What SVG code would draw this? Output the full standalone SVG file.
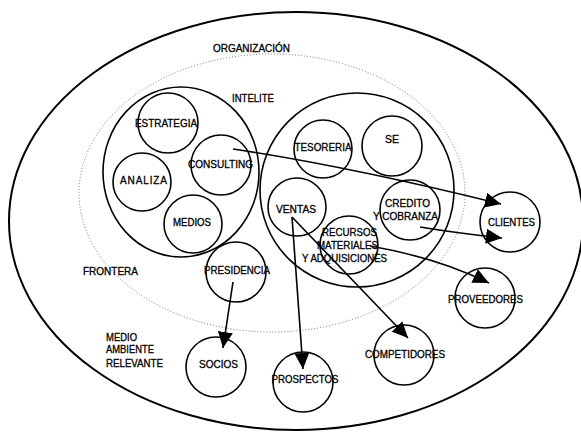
<svg xmlns="http://www.w3.org/2000/svg" width="581" height="433" viewBox="0 0 581 433">
  <style>
    .ring { fill: none; stroke: #000; stroke-width: 2; }
    .node { fill: none; stroke: #000; stroke-width: 1.6; }
    .edge { fill: none; stroke: #000; stroke-width: 1.6; }
    .lbl { font-family: "Liberation Sans", Arial, sans-serif; font-size: 10px; fill: #000; stroke: #000; stroke-width: 0.3; text-anchor: middle; }
    .lft { text-anchor: start; }
  </style>
  <defs>
    <marker id="head" markerUnits="userSpaceOnUse" markerWidth="17" markerHeight="15" refX="16" refY="7.5" orient="auto">
      <path d="M0,0 L16,7.5 L0,15 z" fill="#000"/>
    </marker>
  </defs>
  <rect width="581" height="433" fill="#fff"/>

  <!-- environment and organisation boundaries -->
  <g id="medio-ambiente">
    <ellipse class="ring" cx="296" cy="221" rx="287" ry="209"/>
    <text class="lbl lft" x="106" y="340.5" textLength="31" lengthAdjust="spacingAndGlyphs">MEDIO</text>
    <text class="lbl lft" x="106" y="352.5" textLength="48" lengthAdjust="spacingAndGlyphs">AMBIENTE</text>
    <text class="lbl lft" x="106" y="366.5" textLength="57" lengthAdjust="spacingAndGlyphs">RELEVANTE</text>
  </g>
  <g id="organizacion">
    <ellipse cx="272" cy="193" rx="193" ry="139" fill="none" stroke="#666" stroke-width="0.9" stroke-dasharray="1 2"/>
    <text class="lbl" x="251.5" y="52" textLength="77" lengthAdjust="spacingAndGlyphs">ORGANIZACIÓN</text>
    <text class="lbl lft" x="83" y="274.5" textLength="55" lengthAdjust="spacingAndGlyphs">FRONTERA</text>
  </g>

  <!-- INTELITE group -->
  <g id="intelite">
    <ellipse class="node" cx="181" cy="172" rx="78" ry="85"/>
    <text class="lbl" x="253" y="102" textLength="42" lengthAdjust="spacingAndGlyphs">INTELITE</text>
  </g>
  <g id="estrategia">
    <circle class="node" cx="168" cy="123" r="30"/>
    <text class="lbl" x="166" y="127" textLength="62" lengthAdjust="spacingAndGlyphs">ESTRATEGIA</text>
  </g>
  <g id="consulting">
    <circle class="node" cx="221" cy="165" r="30"/>
    <text class="lbl" x="220.5" y="168" textLength="65" lengthAdjust="spacingAndGlyphs">CONSULTING</text>
  </g>
  <g id="analiza">
    <circle class="node" cx="142" cy="182" r="29"/>
    <text class="lbl" x="143.5" y="184" textLength="47" lengthAdjust="spacing">ANALIZA</text>
  </g>
  <g id="medios">
    <circle class="node" cx="193" cy="224" r="29"/>
    <text class="lbl" x="192" y="226" textLength="38" lengthAdjust="spacingAndGlyphs">MEDIOS</text>
  </g>

  <!-- operations group -->
  <g id="operaciones">
    <circle class="node" cx="357" cy="190" r="97"/>
  </g>
  <g id="tesoreria">
    <circle class="node" cx="323" cy="149" r="29"/>
    <text class="lbl" x="323" y="151" textLength="57" lengthAdjust="spacingAndGlyphs">TESORERIA</text>
  </g>
  <g id="se">
    <circle class="node" cx="392" cy="146" r="30"/>
    <text class="lbl" x="392" y="143" textLength="14" lengthAdjust="spacingAndGlyphs">SE</text>
  </g>
  <g id="ventas">
    <circle class="node" cx="297" cy="207" r="29"/>
    <text class="lbl" x="296" y="213" textLength="40" lengthAdjust="spacingAndGlyphs">VENTAS</text>
  </g>
  <g id="credito">
    <circle class="node" cx="410" cy="210" r="30"/>
    <text class="lbl" x="407.5" y="207" textLength="45" lengthAdjust="spacingAndGlyphs">CREDITO</text>
    <text class="lbl" x="405.5" y="220" textLength="65" lengthAdjust="spacingAndGlyphs">Y COBRANZA</text>
  </g>
  <g id="recursos">
    <circle class="node" cx="349" cy="245" r="29"/>
    <text class="lbl" x="349.5" y="236" textLength="55" lengthAdjust="spacingAndGlyphs">RECURSOS</text>
    <text class="lbl" x="347.5" y="248.5" textLength="61" lengthAdjust="spacingAndGlyphs">MATERIALES</text>
    <text class="lbl" x="344.5" y="262" textLength="85" lengthAdjust="spacingAndGlyphs">Y ADQUISICIONES</text>
  </g>
  <g id="presidencia">
    <circle class="node" cx="236" cy="272" r="30"/>
    <text class="lbl" x="237" y="274" textLength="66" lengthAdjust="spacingAndGlyphs">PRESIDENCIA</text>
  </g>

  <!-- external actors -->
  <g id="clientes">
    <circle class="node" cx="510" cy="222" r="30"/>
    <text class="lbl" x="511.5" y="225.5" textLength="47" lengthAdjust="spacingAndGlyphs">CLIENTES</text>
  </g>
  <g id="proveedores">
    <circle class="node" cx="485" cy="298" r="30"/>
    <text class="lbl" x="485.5" y="303" textLength="75" lengthAdjust="spacingAndGlyphs">PROVEEDORES</text>
  </g>
  <g id="competidores">
    <circle class="node" cx="404" cy="355" r="30"/>
    <text class="lbl" x="405" y="357.5" textLength="80" lengthAdjust="spacingAndGlyphs">COMPETIDORES</text>
  </g>
  <g id="prospectos">
    <circle class="node" cx="303" cy="382" r="30"/>
    <text class="lbl" x="305" y="382.5" textLength="67" lengthAdjust="spacingAndGlyphs">PROSPECTOS</text>
  </g>
  <g id="socios">
    <circle class="node" cx="216" cy="367" r="30"/>
    <text class="lbl" x="218.5" y="368" textLength="39" lengthAdjust="spacingAndGlyphs">SOCIOS</text>
  </g>

  <!-- connectors -->
  <g id="connectors">
    <path class="edge" d="M233,149 C320,162 420,184 501,204" marker-end="url(#head)"/>
    <path class="edge" d="M420,227 C450,232 475,235 502,238" marker-end="url(#head)"/>
    <path class="edge" d="M370,246 C405,252 450,264 489,283" marker-end="url(#head)"/>
    <path class="edge" d="M292,217 L303,369" marker-end="url(#head)"/>
    <path class="edge" d="M292,217 L408,338" marker-end="url(#head)"/>
    <path class="edge" d="M233,282 L223,348" marker-end="url(#head)"/>
  </g>
</svg>
